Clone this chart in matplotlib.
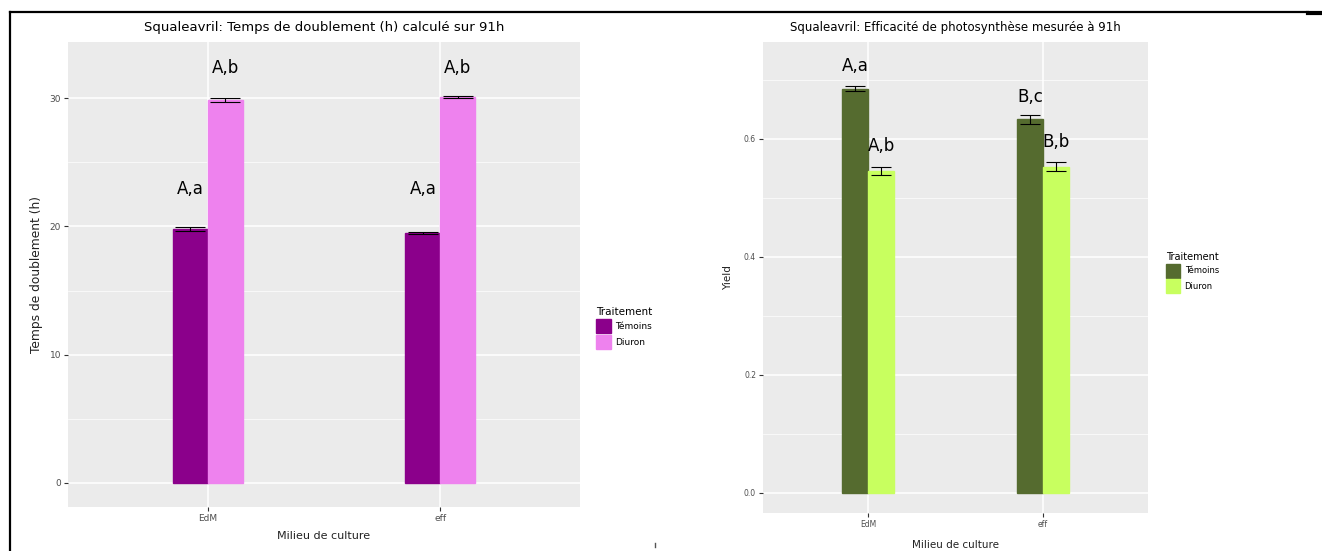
import matplotlib.pyplot as plt
import numpy as np
from matplotlib.lines import Line2D
from matplotlib.patches import Patch

# data
milieux = ['EdM', 'eff']
traitements = ['Témoins', 'Diuron']

doubling_temoins = [19.8, 19.5]
doubling_diuron = [29.9, 30.1]
doubling_err_temoins = [0.12, 0.08]
doubling_err_diuron = [0.15, 0.08]
doubling_labels_temoins = ['A,a', 'A,a']
doubling_labels_diuron = ['A,b', 'A,b']
doubling_label_y_temoins = [22.9, 22.9]
doubling_label_y_diuron = [32.4, 32.4]

yield_temoins = [0.685, 0.633]
yield_diuron = [0.545, 0.553]
yield_err_temoins = [0.004, 0.008]
yield_err_diuron = [0.007, 0.008]
yield_labels_temoins = ['A,a', 'B,c']
yield_labels_diuron = ['A,b', 'B,b']
yield_label_y_temoins = [0.724, 0.670]
yield_label_y_diuron = [0.588, 0.595]

W, H = 1322, 551
GREY_BG = '#EBEBEB'
TXT = '#4D4D4D'


def px_axes(fig, x0, y0, x1, y1):
    return fig.add_axes([x0 / W, 1 - y1 / H, (x1 - x0) / W, (y1 - y0) / H])


def gg_style(ax, yticks, yminor, ylim, fmt):
    ax.set_facecolor(GREY_BG)
    for s in ax.spines.values():
        s.set_visible(False)
    ax.set_xlim(0.4, 2.6)
    ax.set_ylim(*ylim)
    ax.set_yticks(yticks)
    ax.set_yticklabels([fmt.format(t) for t in yticks])
    ax.set_yticks(yminor, minor=True)
    ax.set_xticks([1, 2])
    ax.set_xticklabels(milieux)
    ax.grid(True, which='major', color='white', linewidth=1.1)
    ax.grid(True, which='minor', axis='y', color='white', linewidth=0.5)
    ax.set_axisbelow(True)
    ax.tick_params(which='major', length=3, color='#333333', labelsize=6.5,
                   labelcolor=TXT, pad=2)
    ax.tick_params(which='minor', length=0)


def draw_panel(ax, t_vals, d_vals, t_err, d_err, t_lab, d_lab, t_ly, d_ly,
               colors, bw, capsize):
    x = np.arange(1, len(milieux) + 1)
    ax.bar(x - bw / 2, t_vals, bw, color=colors[0], edgecolor=colors[0])
    ax.bar(x + bw / 2, d_vals, bw, color=colors[1], edgecolor=colors[1])
    ax.errorbar(x - bw / 2, t_vals, yerr=t_err, fmt='none', ecolor='black',
                elinewidth=0.8, capsize=capsize, capthick=0.8)
    ax.errorbar(x + bw / 2, d_vals, yerr=d_err, fmt='none', ecolor='black',
                elinewidth=0.8, capsize=capsize, capthick=0.8)
    for xi, ly, lab in zip(x - bw / 2, t_ly, t_lab):
        ax.text(xi, ly, lab, ha='center', va='center', fontsize=12, color='black')
    for xi, ly, lab in zip(x + bw / 2, d_ly, d_lab):
        ax.text(xi, ly, lab, ha='center', va='center', fontsize=12, color='black')


fig = plt.figure(figsize=(W / 100, H / 100), dpi=100)
fig.patch.set_facecolor('white')

# left panel
ax1 = px_axes(fig, 68, 42, 580, 507)
gg_style(ax1, [0, 10, 20, 30], [5, 15, 25], (-1.9, 34.4), '{:g}')
draw_panel(ax1, doubling_temoins, doubling_diuron, doubling_err_temoins,
           doubling_err_diuron, doubling_labels_temoins, doubling_labels_diuron,
           doubling_label_y_temoins, doubling_label_y_diuron,
           ['#8B008B', '#EE82EE'], 0.15, 11)
ax1.set_title('Squaleavril: Temps de doublement (h) calculé sur 91h',
              fontsize=9.5, color='black', pad=8)
ax1.set_ylabel('Temps de doublement (h)', fontsize=8.8, color='#222222', labelpad=5)
ax1.set_xlabel('Milieu de culture', fontsize=8, color='#222222', labelpad=6)
ax1.legend(handles=[Patch(color='#8B008B', label='Témoins'),
                    Patch(color='#EE82EE', label='Diuron')],
           title='Traitement', loc='center left', bbox_to_anchor=(1.016, 0.385),
           frameon=False, fontsize=6.5, title_fontsize=7.5,
           handlelength=1.6, handleheight=2.0, handletextpad=0.5,
           labelspacing=0.25, alignment='left')

# right panel
ax2 = px_axes(fig, 763, 42, 1148, 513)
gg_style(ax2, [0.0, 0.2, 0.4, 0.6], [0.1, 0.3, 0.5, 0.7], (-0.034, 0.764), '{:.1f}')
draw_panel(ax2, yield_temoins, yield_diuron, yield_err_temoins,
           yield_err_diuron, yield_labels_temoins, yield_labels_diuron,
           yield_label_y_temoins, yield_label_y_diuron,
           ['#556B2F', '#C8FF5F'], 0.15, 7)
ax2.set_title('Squaleavril: Efficacité de photosynthèse mesurée à 91h',
              fontsize=8.5, color='black', pad=8)
ax2.set_ylabel('Yield', fontsize=7.5, color='#222222', labelpad=8)
ax2.set_xlabel('Milieu de culture', fontsize=7.5, color='#222222', labelpad=8)
ax2.tick_params(which='major', labelsize=5.5)
ax2.legend(handles=[Patch(color='#556B2F', label='Témoins'),
                    Patch(color='#C8FF5F', label='Diuron')],
           title='Traitement', loc='center left', bbox_to_anchor=(1.028, 0.51),
           frameon=False, fontsize=6, title_fontsize=7,
           handlelength=1.7, handleheight=2.2, handletextpad=0.5,
           labelspacing=0.2, alignment='left')

# screenshot frame lines
fig.add_artist(Line2D([10 / W, 1308 / W], [1 - 12 / H, 1 - 12 / H],
                      transform=fig.transFigure, color='black', linewidth=1.6))
fig.add_artist(Line2D([1308 / W, 1 - 0.5 / W], [1 - 12.5 / H, 1 - 12.5 / H],
                      transform=fig.transFigure, color='black', linewidth=3))
fig.add_artist(Line2D([10 / W, 10 / W], [0, 1 - 12 / H],
                      transform=fig.transFigure, color='black', linewidth=1.6))
fig.add_artist(Line2D([655 / W, 655 / W], [1 - 543 / H, 1 - 547 / H],
                      transform=fig.transFigure, color='#555555', linewidth=1))

fig.savefig('out.png', dpi=100)
